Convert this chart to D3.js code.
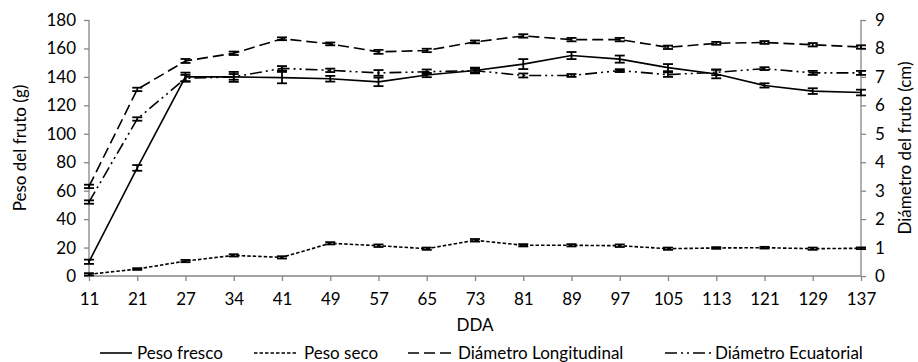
<!DOCTYPE html>
<html><head><meta charset="utf-8">
<script src="https://cdn.jsdelivr.net/npm/d3@7/dist/d3.min.js"></script>
<style>body{margin:0;background:#fff}svg{display:block}text{font-family:Lato,"Open Sans",sans-serif;fill:#000}</style>
</head><body><svg id="c" width="918" height="362"></svg>
<script>
const categories = ["11","21","27","34","41","49","57","65","73","81","89","97","105","113","121","129","137"];
const pesoFresco = [10,76,140,140,139.5,138.7,136.5,141.3,144.5,149,155,152.5,146.5,142,134,130,129];
const pesoFrescoErr = [1.5,2,3,3.5,4,2,3,1.5,2,3.5,2.5,2.5,2.5,3,1.5,2,2];
const pesoSeco = [1.2,4.9,10.5,14.5,13.1,23,21.3,19.2,25.1,21.6,21.6,21.3,19.2,19.7,19.9,19.2,19.5];
const pesoSecoErr = [0.8,0.6,0.8,0.8,0.8,0.8,0.9,0.8,0.9,0.8,0.8,0.9,0.8,0.6,0.6,0.8,0.6];
const diamLong = [3.15,6.56,7.56,7.83,8.34,8.16,7.88,7.93,8.23,8.44,8.31,8.31,8.04,8.18,8.21,8.13,8.05];
const diamLongErr = [0.06,0.06,0.07,0.06,0.05,0.05,0.07,0.06,0.05,0.06,0.06,0.06,0.06,0.05,0.05,0.06,0.06];
const diamEcu = [2.6,5.52,6.95,7.0,7.3,7.23,7.14,7.18,7.22,7.05,7.05,7.22,7.08,7.16,7.29,7.14,7.14];
const diamEcuErr = [0.06,0.06,0.12,0.1,0.08,0.06,0.1,0.08,0.06,0.07,0.05,0.05,0.08,0.1,0.05,0.07,0.07];
const leftTicks = [0,20,40,60,80,100,120,140,160,180];
const rightTicks = [0,1,2,3,4,5,6,7,8,9];
const seriesNames = ["Peso fresco","Peso seco","Diámetro Longitudinal","Diámetro Ecuatorial"];

const svg = d3.select("#c");
const L = 89, R = 861, T = 20, B = 276;
const FS = "17px";
const x = d3.scalePoint().domain(categories).range([L, R]);
const yL = d3.scaleLinear().domain([0,180]).range([B, T]);
const yR = d3.scaleLinear().domain([0,9]).range([B, T]);
const grey = "#868686";

// axes
const axL = svg.append("g").attr("transform",`translate(${L},0)`).call(d3.axisLeft(yL).tickValues(leftTicks).tickSize(5).tickPadding(8));
const axR = svg.append("g").attr("transform",`translate(${R},0)`).call(d3.axisRight(yR).tickValues(rightTicks).tickSize(5).tickPadding(9));
const axB = svg.append("g").attr("transform",`translate(0,${B})`).call(d3.axisBottom(x).tickSize(5).tickPadding(12));
[axL,axR,axB].forEach(a=>{
  a.select(".domain").attr("stroke",grey).attr("stroke-width",1.3);
  a.selectAll(".tick line").attr("stroke",grey).attr("stroke-width",1.3);
  a.selectAll("text").style("font-size",FS).style("font-family","Lato, sans-serif").attr("fill","#000");
});
axL.select(".domain").attr("d",`M-0,${B}V${T}`);
axR.select(".domain").attr("d",`M0,${B}V${T}`);
axB.select(".domain").attr("d",`M${L},0H${R}`);

// titles
svg.append("text").attr("transform",`translate(20,${(T+B)/2}) rotate(-90)`).attr("text-anchor","middle").attr("dy","0.35em").style("font-size",FS).text("Peso  del fruto (g)");
svg.append("text").attr("transform",`translate(905,${(T+B)/2}) rotate(-90)`).attr("text-anchor","middle").attr("dy","0.35em").style("font-size",FS).text("Diámetro del fruto (cm)");
svg.append("text").attr("x",(L+R)/2).attr("y",325).attr("text-anchor","middle").attr("dy","0.35em").style("font-size",FS).text("DDA");

const dashes = [null,"3.5,2","11,5","12,4,2,4,2,4"];
const series = [
  {v:pesoFresco,e:pesoFrescoErr,y:yL},
  {v:pesoSeco,e:pesoSecoErr,y:yL},
  {v:diamLong,e:diamLongErr,y:yR},
  {v:diamEcu,e:diamEcuErr,y:yR}
];
series.forEach((s,i)=>{
  const line = d3.line().x((d,j)=>x(categories[j])).y(d=>s.y(d));
  svg.append("path").attr("d",line(s.v)).attr("fill","none").attr("stroke","#000").attr("stroke-width",1.6)
    .attr("stroke-dasharray",dashes[i]);
  const g = svg.append("g").attr("stroke","#000").attr("stroke-width",1.8);
  s.v.forEach((d,j)=>{
    const cx = x(categories[j]), y1 = s.y(d+s.e[j]), y2 = s.y(d-s.e[j]);
    g.append("line").attr("x1",cx).attr("x2",cx).attr("y1",y1).attr("y2",y2);
    g.append("line").attr("x1",cx-5).attr("x2",cx+5).attr("y1",y1).attr("y2",y1);
    g.append("line").attr("x1",cx-5).attr("x2",cx+5).attr("y1",y2).attr("y2",y2);
  });
});

// legend
const legX = [[100,132,137],[254,297,304],[408,453,458],[665,712,715]];
const legY = 353;
seriesNames.forEach((n,i)=>{
  svg.append("line").attr("x1",legX[i][0]).attr("x2",legX[i][1]).attr("y1",legY).attr("y2",legY)
    .attr("stroke","#000").attr("stroke-width",1.6).attr("stroke-dasharray",dashes[i]);
  svg.append("text").attr("x",legX[i][2]).attr("y",legY).attr("dy","0.35em").style("font-size",FS).text(n);
});
</script></body></html>
